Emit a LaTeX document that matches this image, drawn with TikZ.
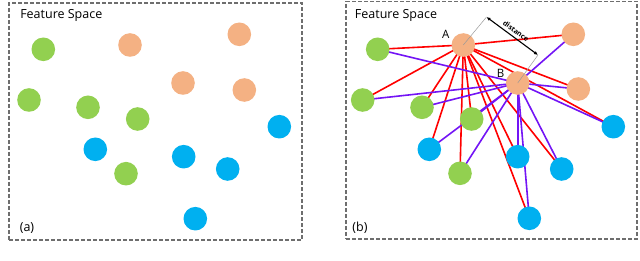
\documentclass[tikz,border=0pt]{standalone}
\usepackage{fontspec}
\setmainfont{Open Sans}
\usetikzlibrary{backgrounds,arrows.meta}
\definecolor{cgreen}{HTML}{92D050}
\definecolor{corange}{HTML}{F4B183}
\definecolor{cblue}{HTML}{00B0F0}
\definecolor{cred}{HTML}{FF0000}
\definecolor{cpurple}{RGB}{115,20,245}
\definecolor{cframe}{RGB}{110,110,110}
\tikzset{
  dot/.style={circle,draw=none,minimum size=23.6pt,inner sep=0pt},
  gdot/.style={dot,fill=cgreen},
  odot/.style={dot,fill=corange},
  bdot/.style={dot,fill=cblue},
  frame/.style={draw=cframe,line width=1.1pt,dash pattern=on 4pt off 2pt},
  redl/.style={draw=cred,line width=1.6pt},
  purl/.style={draw=cpurple,line width=1.6pt},
  guide/.style={draw=gray!80,line width=0.5pt},
  lbl/.style={font=\fontsize{12.5}{14}\selectfont,inner sep=0pt},
  ptlbl/.style={font=\fontsize{11.5}{13}\selectfont,inner sep=0pt}
}
\begin{document}
\begin{tikzpicture}[x=1pt,y=-1pt]
\useasboundingbox (0,0) rectangle (640,261);
% frames
\node[frame,minimum width=293pt,minimum height=237pt,inner sep=0pt] (fa) at (155.5,121.5) {};
\node[frame,minimum width=291pt,minimum height=237.5pt,inner sep=0pt] (fb) at (491.5,120.25) {};
\node[lbl] (ta) at (61.3,15) {Feature Space};
\node[lbl] (tb) at (396,15) {Feature Space};
\node[lbl] (la) at (27,228) {(a)};
\node[lbl] (lb) at (360,228) {(b)};
% panel (a)
\node[gdot] (a1) at (43.3,49.3) {};
\node[odot] (a2) at (130,45) {};
\node[odot] (a3) at (239.3,34.3) {};
\node[odot] (a4) at (183,83) {};
\node[odot] (a5) at (244.3,90) {};
\node[gdot] (a6) at (29,100) {};
\node[gdot] (a7) at (88,107.3) {};
\node[gdot] (a8) at (137.7,119) {};
\node[bdot] (a9) at (279.3,126.7) {};
\node[bdot] (a10) at (95.3,149.3) {};
\node[bdot] (a11) at (183.7,156.7) {};
\node[bdot] (a12) at (227.7,169) {};
\node[gdot] (a13) at (126,173.7) {};
\node[bdot] (a14) at (195.3,218.7) {};
% panel (b)
\node[gdot] (g1) at (377.7,49.3) {};
\node[odot] (A) at (463.3,45) {};
\node[odot] (o2) at (573.3,34.3) {};
\node[odot] (B) at (517.7,83) {};
\node[odot] (o4) at (578.3,89) {};
\node[gdot] (g2) at (362.7,100) {};
\node[gdot] (g3) at (422,107.3) {};
\node[gdot] (g4) at (471.7,119) {};
\node[bdot] (b1) at (613.3,126.7) {};
\node[bdot] (b2) at (429.3,149.3) {};
\node[bdot] (b3) at (517.7,156.7) {};
\node[bdot] (b4) at (561.7,169) {};
\node[gdot] (g5) at (460,173.3) {};
\node[bdot] (b5) at (529.3,218.3) {};
\begin{scope}[on background layer]
  \foreach \t in {g1,o2,o4,g2,g3,g4,b1,b2,b3,b4,g5,b5}
    \draw[redl] (A.center) -- (\t.center);
  \foreach \t in {g1,o2,o4,g2,g3,g4,b1,b2,b3,b4,g5,b5}
    \draw[purl] (B.center) -- (\t.center);
\end{scope}
\node[ptlbl] (lA) at (445.7,34.3) {A};
\node[ptlbl] (lB) at (500.7,73.3) {B};
\coordinate (pa) at (486.5,17);
\coordinate (pb) at (538,55);
\draw[guide] (A.center) -- (pa);
\draw[guide] (B.center) -- (pb);
\draw[line width=1.1pt,{Latex[length=4pt,width=3.5pt]}-{Latex[length=4pt,width=3.5pt]}] (pa) -- (pb)
  node[midway,sloped,above=3pt,font=\bfseries\fontsize{7}{8}\selectfont,inner sep=0pt] (dl) {distance};
\end{tikzpicture}
\end{document}
